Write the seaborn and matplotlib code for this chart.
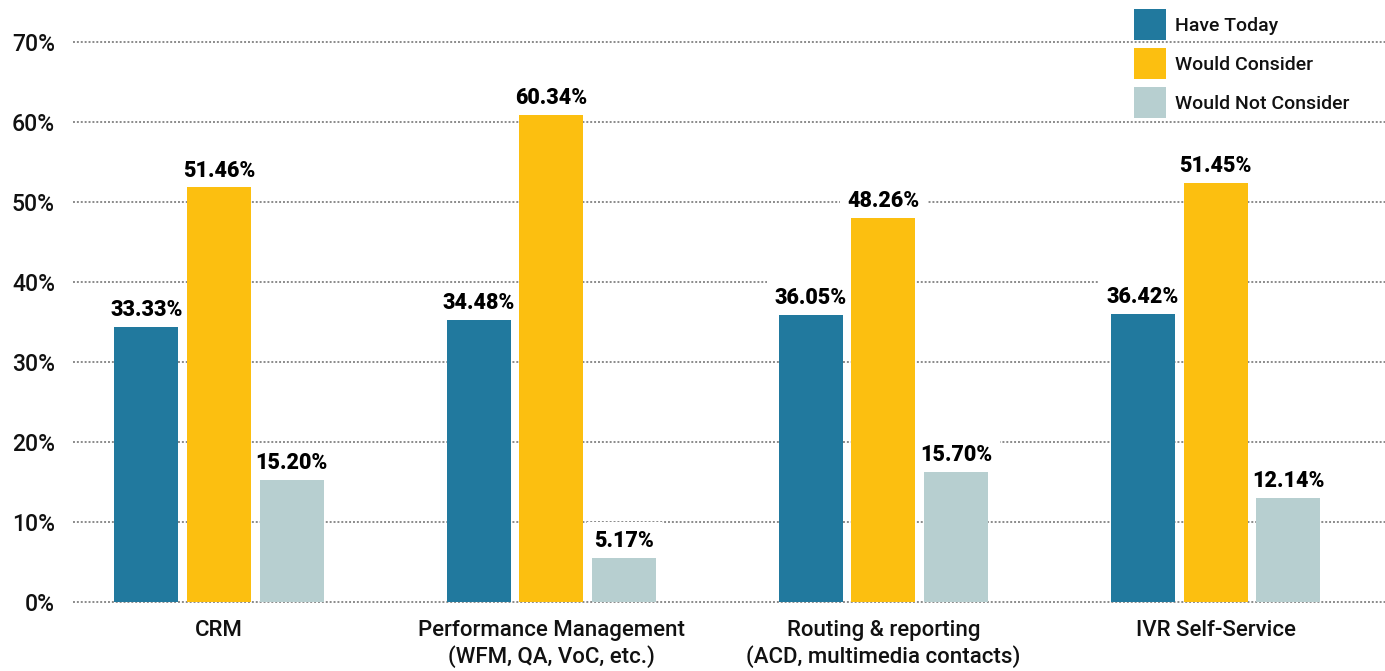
import matplotlib
matplotlib.use("Agg")
import matplotlib.pyplot as plt
import seaborn as sns
import pandas as pd
from matplotlib.patches import Patch

# ---- data ----
categories = ["CRM", "Performance Management\n(WFM, QA, VoC, etc.)",
              "Routing & reporting\n(ACD, multimedia contacts)", "IVR Self-Service"]
series_names = ["Have Today", "Would Consider", "Would Not Consider"]
# bar heights as drawn in the picture (percent)
have_today = [34.4, 35.2, 35.8, 36.0]
would_consider = [51.8, 60.9, 48.0, 52.4]
would_not_consider = [15.2, 5.5, 16.2, 13.0]
# printed value labels
have_today_labels = ["33.33%", "34.48%", "36.05%", "36.42%"]
would_consider_labels = ["51.46%", "60.34%", "48.26%", "51.45%"]
would_not_consider_labels = ["15.20%", "5.17%", "15.70%", "12.14%"]
y_ticks = [0, 10, 20, 30, 40, 50, 60, 70]
y_tick_labels = ["0%", "10%", "20%", "30%", "40%", "50%", "60%", "70%"]

colors = ["#21799E", "#FCBF10", "#B7CFD0"]

rows = []
for name, vals in zip(series_names, [have_today, would_consider, would_not_consider]):
    for c, v in zip(categories, vals):
        rows.append({"category": c, "series": name, "value": v})
df = pd.DataFrame(rows)

sns.set_theme(style="white")
plt.rcParams["font.family"] = ["Roboto", "DejaVu Sans"]

fig = plt.figure(figsize=(13.85, 6.71), dpi=100)
ax = fig.add_axes([73 / 1385, 0.0973, 1 - 73 / 1385, 0.9613 - 0.0973])

sns.barplot(data=df, x="category", y="value", hue="series", order=categories,
            hue_order=series_names, palette=colors, width=0.657, gap=0.12,
            dodge=True, ax=ax, legend=False, saturation=1, errorbar=None)

for p in ax.patches:
    p.set_zorder(2)
    p.set_edgecolor("none")

ax.set_xlim(-0.44, 3.51)
ax.set_ylim(-0.5, 72)
ax.set_yticks(y_ticks)
ax.set_yticklabels(y_tick_labels)
ax.set_xlabel("")
ax.set_ylabel("")
ax.tick_params(axis="y", length=0, pad=13, labelsize=16.5, labelcolor="#111111")
ax.tick_params(axis="x", length=0, pad=10, labelsize=16, labelcolor="#111111")
for lbl in ax.get_xticklabels():
    lbl.set_linespacing(1.25)
for lbl in ax.get_yticklabels() + ax.get_xticklabels():
    lbl.set_fontweight("medium")

ax.grid(axis="y", linestyle=(0, (1, 1)), color="#8a8a8a", linewidth=1.4, zorder=0.5)
ax.grid(axis="x", visible=False)
ax.set_axisbelow(True)
for s in ax.spines.values():
    s.set_visible(False)

all_labels = [have_today_labels, would_consider_labels, would_not_consider_labels]
for cont, labs in zip(ax.containers, all_labels):
    ax.bar_label(cont, labels=labs, padding=4.3, fontsize=15.5, fontweight="black",
                 color="#000000", zorder=1.2,
                 bbox=dict(boxstyle="square,pad=0.35", fc="white", ec="none"))

handles = [Patch(facecolor=c, edgecolor="none") for c in colors]
leg = fig.legend(handles, series_names, loc="upper left",
                 bbox_to_anchor=(1134 / 1385, 1 - 9 / 671), frameon=False,
                 borderpad=0, borderaxespad=0, handlelength=1.64, handleheight=2.1,
                 handletextpad=0.46, labelspacing=0.4, fontsize=14,
                 labelcolor="#111111")
for t in leg.get_texts():
    t.set_fontweight("medium")

fig.savefig("out.png", dpi=100)
